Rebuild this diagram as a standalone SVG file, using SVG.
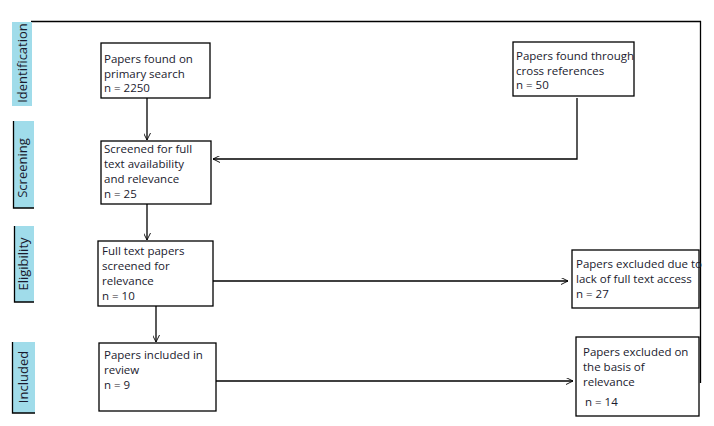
<svg xmlns="http://www.w3.org/2000/svg" width="714" height="426" viewBox="0 0 714 426">
<defs>
<style>
.box{fill:#fff;stroke:#000;stroke-width:1.3}
.t{font-family:"Open Sans","Liberation Sans",Arial,sans-serif;font-size:11.5px;fill:#1a1a2e}
.lab{fill:#a0dcea}
.edge{stroke:#000;stroke-width:1.3;fill:none}
.lt{font-family:"Open Sans","Liberation Sans",Arial,sans-serif;font-size:13px;fill:#1a1a2e;text-anchor:middle}
</style>
<marker id="arr" viewBox="0 0 10 10" refX="10" refY="5" markerWidth="7" markerHeight="7" markerUnits="userSpaceOnUse" orient="auto">
<path d="M0,0 L10,5 L0,10" fill="none" stroke="#000" stroke-width="1.3"/>
</marker>
</defs>
<rect width="714" height="426" fill="#fff"/>
<g id="frame">
<path class="edge" d="M31,21.5 H701 M700.5,21 V383"/>
</g>
<g id="phase-identification">
<rect class="lab" x="12" y="22" width="20" height="84"/>
<text class="lt" transform="translate(27,63) rotate(-90)">Identification</text>
</g>
<g id="phase-screening">
<rect class="lab" x="13" y="121" width="21" height="87"/>
<path d="M13.5,121 V208 H34" stroke="#000" stroke-width="1.3" fill="none"/>
<text class="lt" transform="translate(27,168) rotate(-90)">Screening</text>
</g>
<g id="phase-eligibility">
<rect class="lab" x="14" y="226" width="20" height="76"/>
<path d="M14.5,226 V302 H34" stroke="#000" stroke-width="1.3" fill="none"/>
<text class="lt" transform="translate(28,264) rotate(-90)">Eligibility</text>
</g>
<g id="phase-included">
<rect class="lab" x="12" y="342" width="23" height="71"/>
<path d="M12.5,342 V413 H35" stroke="#000" stroke-width="1.3" fill="none"/>
<text class="lt" transform="translate(28,377) rotate(-90)">Included</text>
</g>
<g id="connectors">
<path class="edge" d="M147,98 V140" marker-end="url(#arr)"/>
<path class="edge" d="M577,98 V159 H213" marker-end="url(#arr)"/>
<path class="edge" d="M147,204 V240" marker-end="url(#arr)"/>
<path class="edge" d="M156,306 V342" marker-end="url(#arr)"/>
<path class="edge" d="M213,281 H568" marker-end="url(#arr)"/>
<path class="edge" d="M216,381 H573" marker-end="url(#arr)"/>
</g>
<g id="primary">
<rect class="box" x="101" y="43" width="109" height="55"/>
<text class="t"><tspan x="104" y="63">Papers found on</tspan><tspan x="104" y="77.5">primary search</tspan><tspan x="104" y="92">n = 2250</tspan></text>
</g>
<g id="crossref">
<rect class="box" x="513" y="42" width="121" height="54"/>
<text class="t"><tspan x="516" y="60">Papers found through</tspan><tspan x="516" y="74.5">cross references</tspan><tspan x="516" y="89">n = 50</tspan></text>
</g>
<g id="screened">
<rect class="box" x="101" y="141" width="110" height="63"/>
<text class="t"><tspan x="104" y="153">Screened for full</tspan><tspan x="104" y="168">text availability</tspan><tspan x="104" y="183">and relevance</tspan><tspan x="104" y="197.5">n = 25</tspan></text>
</g>
<g id="fulltext">
<rect class="box" x="98" y="241" width="115" height="65"/>
<text class="t"><tspan x="102" y="255">Full text papers</tspan><tspan x="102" y="270">screened for</tspan><tspan x="102" y="285">relevance</tspan><tspan x="102" y="299.5">n = 10</tspan></text>
</g>
<g id="included">
<rect class="box" x="99" y="343" width="117" height="68"/>
<text class="t"><tspan x="104" y="359">Papers included in</tspan><tspan x="104" y="374">review</tspan><tspan x="104" y="389">n = 9</tspan></text>
</g>
<g id="excluded-access">
<rect class="box" x="572" y="250" width="127" height="58"/>
<text class="t"><tspan x="576" y="268">Papers excluded due to</tspan><tspan x="576" y="283">lack of full text access</tspan><tspan x="576" y="298">n =  27</tspan></text>
</g>
<g id="excluded-relevance">
<rect class="box" x="576" y="337" width="123" height="79"/>
<text class="t"><tspan x="583" y="356">Papers excluded on</tspan><tspan x="583" y="371">the basis of</tspan><tspan x="583" y="386">relevance</tspan><tspan x="585" y="406">n = 14</tspan></text>
</g>
</svg>
